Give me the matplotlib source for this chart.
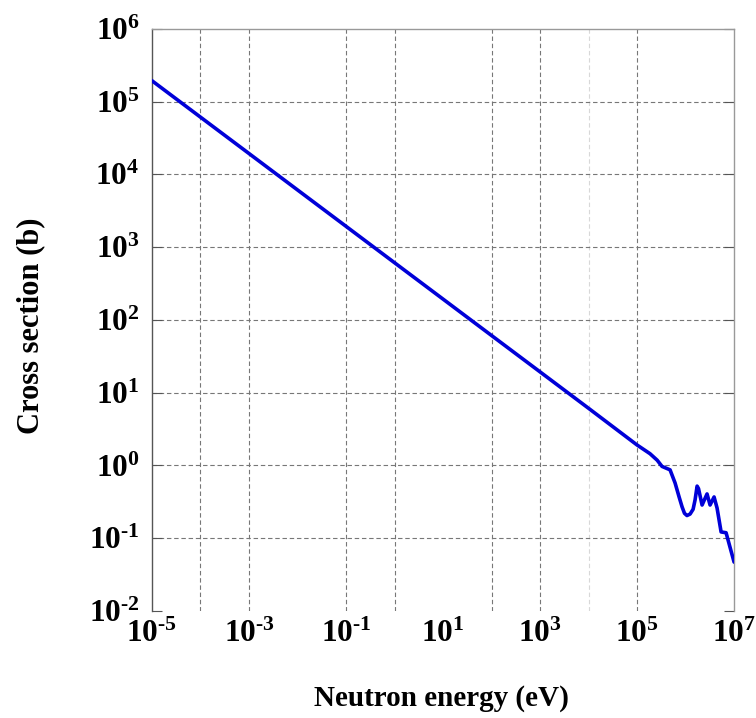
import numpy as np
import matplotlib
matplotlib.use("Agg")
import matplotlib.pyplot as plt
from matplotlib.ticker import FixedLocator, FuncFormatter, NullLocator

plt.rcParams["font.family"] = ["Liberation Serif", "DejaVu Serif"]
plt.rcParams["font.weight"] = "bold"
plt.rcParams["mathtext.fontset"] = "custom"
plt.rcParams["mathtext.rm"] = "Liberation Serif:bold"
plt.rcParams["mathtext.it"] = "Liberation Serif:bold:italic"
plt.rcParams["mathtext.bf"] = "Liberation Serif:bold"

# neutron energy (eV) and cross section (b)
energy = [1e-5, 1e-4, 1e-3, 1e-2, 1e-1, 1e0, 1e1, 1e2, 1e3, 1e4,
          1.0e5, 1.85e5, 2.6e5, 3.27e5, 4.79e5, 6.08e5, 7.35e5, 8.47e5,
          0.95e6, 1.07e6, 1.24e6, 1.43e6, 1.57e6, 1.73e6, 1.85e6, 2.19e6,
          2.77e6, 3.2e6, 3.87e6, 4.46e6, 5.4e6, 6.84e6, 1e7]
xsec = [1.93e5, 6.1e4, 1.93e4, 6.1e3, 1.93e3, 610, 193, 61, 19.3, 6.1,
        1.91, 1.45, 1.18, 0.97, 0.87, 0.574, 0.37, 0.27,
        0.22, 0.205, 0.215, 0.25, 0.336, 0.52, 0.48, 0.286,
        0.406, 0.286, 0.369, 0.26, 0.122, 0.119, 0.047]

x_decades = list(range(-5, 8, 2))
y_decades = list(range(-2, 7))


def sci(v, pos):
    e = int(round(np.log10(v)))
    if e < 0:
        return r"$10^{\text{-%d}}$" % (-e)
    return r"$10^{%d}$" % e


fig = plt.figure(figsize=(7.56, 7.18), dpi=100)
ax = fig.add_axes([0.201, 0.149, 0.770, 0.811])
ax.set_xscale("log")
ax.set_yscale("log")
ax.set_xlim(1e-5, 1e7)
ax.set_ylim(1e-2, 1e6)

# dashed grid (some decade lines are missing / faint in the original)
for d in [-4, -3, -1, 0, 2, 3, 5]:
    ax.axvline(10.0 ** d, color="#777777", lw=0.8, ls=(0, (4, 2.5)), zorder=1)
ax.axvline(1e4, color="#d8d8d8", lw=0.8, ls=(0, (4, 2.5)), zorder=1)
for d in range(-1, 6):
    ax.axhline(10.0 ** d, color="#777777", lw=0.8, ls=(0, (4, 2.5)), zorder=1)

ax.plot(energy, xsec, color="#0000d8", lw=2.6, solid_joinstyle="round",
        solid_capstyle="round", zorder=3)

ax.xaxis.set_major_locator(FixedLocator([10.0 ** d for d in x_decades]))
ax.yaxis.set_major_locator(FixedLocator([10.0 ** d for d in y_decades]))
ax.xaxis.set_minor_locator(NullLocator())
ax.yaxis.set_minor_locator(NullLocator())
ax.xaxis.set_major_formatter(FuncFormatter(sci))
ax.yaxis.set_major_formatter(FuncFormatter(sci))
ax.tick_params(axis="x", length=0, pad=6, labelsize=22.5)
ax.tick_params(axis="y", direction="in", length=7, width=0.8, color="#555555",
               right=True, pad=9, labelsize=22.5)

for side in ["top", "right"]:
    ax.spines[side].set_color("#999999")
    ax.spines[side].set_linewidth(1.0)
ax.spines["left"].set_color("#555555")
ax.spines["left"].set_linewidth(1.0)
ax.spines["bottom"].set_visible(False)

ax.set_xlabel("Neutron energy (eV)", fontsize=21, fontweight="bold")
ax.set_ylabel("Cross section (b)", fontsize=22, fontweight="bold")
ax.xaxis.set_label_coords(0.498, -0.127)
ax.yaxis.set_label_coords(-0.183, 0.49)

fig.savefig("out.png", dpi=100)
